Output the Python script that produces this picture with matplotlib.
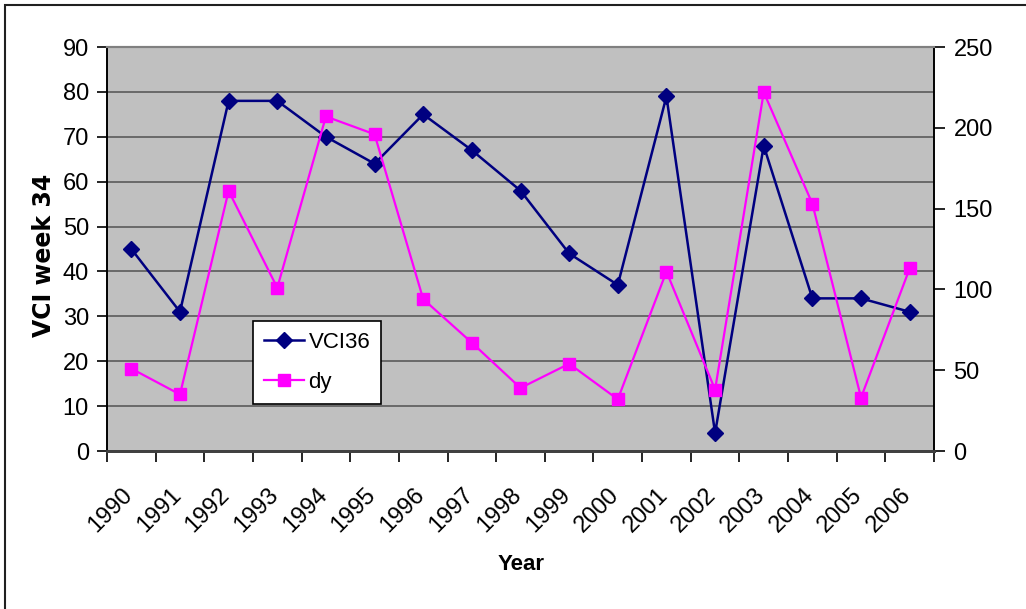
import matplotlib
matplotlib.use("Agg")
import matplotlib.pyplot as plt
import matplotlib.patches as mpatches
from matplotlib.transforms import ScaledTranslation
import numpy as np

plt.rcParams['font.family'] = ['Liberation Sans', 'DejaVu Sans']

years = ['1990', '1991', '1992', '1993', '1994', '1995', '1996', '1997', '1998',
         '1999', '2000', '2001', '2002', '2003', '2004', '2005', '2006']
vci36 = [45, 31, 78, 78, 70, 64, 75, 67, 58, 44, 37, 79, 4, 68, 34, 34, 31]
dy = [51, 35, 161, 101, 207, 196, 94, 67, 39, 54, 32, 111, 38, 222, 153, 33, 113]

W, H = 1026, 609
FS = 17
fig = plt.figure(figsize=(W / 100, H / 100), dpi=100)
ax = fig.add_axes([107 / W, 1 - 451 / H, (934 - 107) / W, (451 - 47) / H])
ax.set_facecolor('#c0c0c0')

n = len(years)
xpos = np.arange(n) + 0.5

# horizontal gridlines from the left axis
ax.set_ylim(0, 90)
ax.set_yticks(np.arange(0, 91, 10))
ax.yaxis.grid(True, color='#5a5a5a', linewidth=1.2)
ax.set_axisbelow(True)

ax.set_xlim(0, n)
ax.set_xticks(np.arange(0, n + 1))
ax.set_xticklabels([])
ax.set_xticks(xpos, minor=True)
ax.set_xticklabels(years, minor=True, rotation=45, ha='right', va='center',
                   rotation_mode='anchor', fontsize=FS)
ax.tick_params(axis='x', which='major', direction='out', length=8, width=1.2)
ax.tick_params(axis='x', which='minor', length=0, pad=29)
ax.tick_params(axis='y', direction='out', length=7, width=1.2, pad=6, labelsize=FS)
for lab in ax.get_xticklabels(minor=True):
    lab.set_transform(lab.get_transform() + ScaledTranslation(-2 / 100, 0, fig.dpi_scale_trans))

l1, = ax.plot(xpos, vci36, color='#000080', linewidth=1.8, marker='D',
              markersize=8, markerfacecolor='#000080', markeredgecolor='#000080',
              label='VCI36', zorder=3)

ax2 = ax.twinx()
ax2.set_ylim(0, 250)
ax2.set_yticks(np.arange(0, 251, 50))
ax2.tick_params(axis='y', direction='out', length=8, width=1.2, pad=6, labelsize=FS)
l2, = ax2.plot(xpos, dy, color='#ff00ff', linewidth=1.6, marker='s',
               markersize=8.5, markerfacecolor='#ff00ff', markeredgecolor='#ff00ff',
               label='dy', zorder=3)

for a in (ax, ax2):
    a.spines['top'].set_color('#808080')
    a.spines['top'].set_linewidth(1.5)
    a.spines['left'].set_color('black')
    a.spines['right'].set_color('black')
    a.spines['bottom'].set_color('#404040')
    a.spines['bottom'].set_linewidth(2)
    for s in ('left', 'right'):
        a.spines[s].set_linewidth(1.2)

leg = ax2.legend(handles=[l1, l2], loc='upper left',
                 bbox_to_anchor=(253 / W, 1 - 321 / H), bbox_transform=fig.transFigure,
                 borderaxespad=0, fancybox=False, framealpha=1, edgecolor='black',
                 fontsize=16, handlelength=1.8, handletextpad=0.2,
                 borderpad=0.5, labelspacing=0.85)
leg.get_frame().set_linewidth(1.2)

fig.text(44 / W, 1 - 255 / H, 'VCI week 34', rotation=90, ha='center', va='center',
         fontsize=17, fontweight='bold', family='DejaVu Sans')
fig.text(521 / W, 1 - 564 / H, 'Year', ha='center', va='center',
         fontsize=16, fontweight='bold')

# outer chart frame
fig.patches.append(mpatches.Rectangle((4.5 / W, -0.05), 1.2, 1 - 4.5 / H + 0.05,
                                      transform=fig.transFigure, fill=False,
                                      edgecolor='#202020', linewidth=1.5))

fig.savefig('out.png', dpi=100)
